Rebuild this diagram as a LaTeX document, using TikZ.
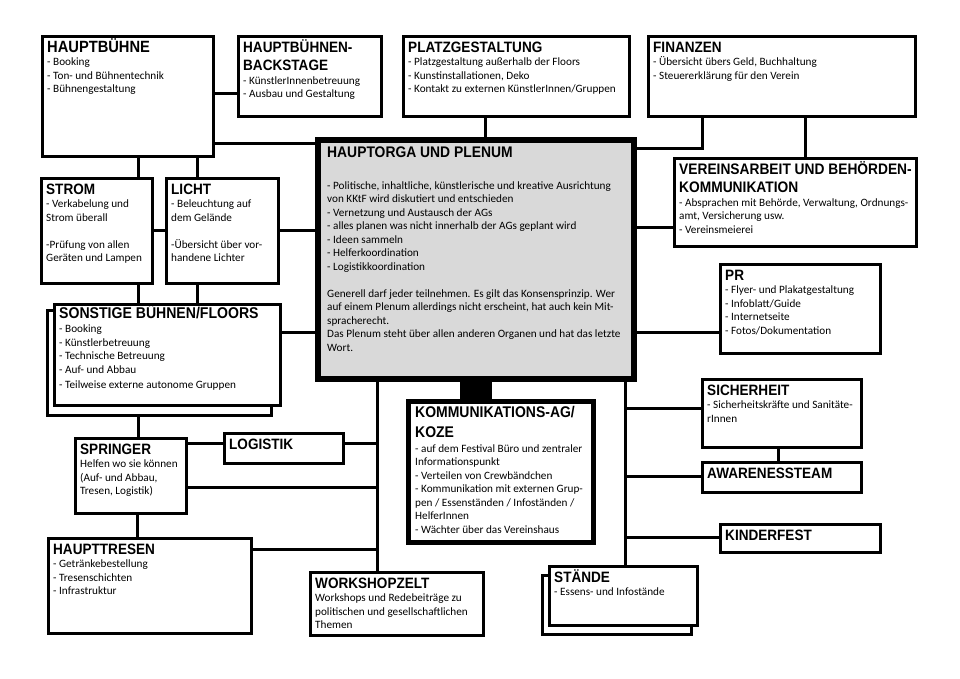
\documentclass[tikz,border=0pt]{standalone}
\usepackage{fontspec}
\setmainfont{Carlito}
\newfontfamily\titlefamily{Liberation Sans}
\usepackage{xcolor}
\usepackage{graphicx}

\newcommand{\bodyfont}{\fontsize{11.2}{13.5}\selectfont}
\newcommand{\titlefont}[1]{\titlefamily\bfseries\fontsize{#1}{16}\selectfont}
\newcommand{\boxtitle}[2][13.3]{\rule{0pt}{14pt}\scalebox{1.02}[1.13]{\titlefont{#1}#2}}
\newcommand{\boxtitlecont}[2][13.3]{\scalebox{1.02}[1.13]{\titlefont{#1}#2}}
\definecolor{orgagray}{RGB}{217,217,217}

\begin{document}
\begin{tikzpicture}[x=1pt, y=-1pt,
    orgbox/.style={draw, line width=3pt, fill=white, inner sep=0pt, anchor=north west},
    boxlabel/.style={anchor=north west, inner sep=0pt, align=left, font=\bodyfont, xshift=6pt, yshift=-3pt},
    conn/.style={line width=3pt}]

    \fill[white] (0,0) rectangle (960,678);
    \useasboundingbox (0,0) rectangle (960,678);

    % top row
    \node[orgbox, minimum width=171, minimum height=120] (buehne) at (41,35) {};
    \node[boxlabel] (buehnetext) at (buehne.north west) {\boxtitle[14.4]{HAUPTBÜHNE}\\- Booking\\- Ton- und Bühnentechnik\\- Bühnengestaltung};

    \node[orgbox, minimum width=143, minimum height=80] (backstage) at (237,35) {};
    \node[boxlabel] (backstagetext) at (backstage.north west) {\boxtitle{HAUPTBÜHNEN-}\\[5pt]\boxtitlecont{BACKSTAGE}\\- KünstlerInnenbetreuung\\- Ausbau und Gestaltung};

    \node[orgbox, minimum width=226, minimum height=80] (platz) at (402,35) {};
    \node[boxlabel] (platztext) at (platz.north west) {\boxtitle{PLATZGESTALTUNG}\\- Platzgestaltung außerhalb der Floors\\- Kunstinstallationen, Deko\\- Kontakt zu externen KünstlerInnen/Gruppen};

    \node[orgbox, minimum width=267, minimum height=80] (finanzen) at (647,35) {};
    \node[boxlabel] (finanzentext) at (finanzen.north west) {\boxtitle{FINANZEN}\\- Übersicht übers Geld, Buchhaltung\\- Steuererklärung für den Verein};

    % hauptorga
    \node[orgbox, line width=6pt, fill=orgagray, minimum width=316, minimum height=239] (orga) at (315,137) {};
    \node[boxlabel, xshift=6pt, yshift=-3pt] (orgatext) at (orga.north west) {\boxtitle[13.6]{HAUPTORGA UND PLENUM}\\[18.5pt]
        - Politische, inhaltliche, künstlerische und kreative Ausrichtung\\
        von KKtF wird diskutiert und entschieden\\
        - Vernetzung und Austausch der AGs\\
        - alles planen was nicht innerhalb der AGs geplant wird\\
        - Ideen sammeln\\
        - Helferkoordination\\
        - Logistikkoordination\\[13.5pt]
        Generell darf jeder teilnehmen. Es gilt das Konsensprinzip. Wer\\
        auf einem Plenum allerdings nicht erscheint, hat auch kein Mit-\\
        spracherecht.\\
        Das Plenum steht über allen anderen Organen und hat das letzte\\
        Wort.};

    % left column
    \node[orgbox, minimum width=111, minimum height=105] (strom) at (40,177) {};
    \node[boxlabel] (stromtext) at (strom.north west) {\boxtitle{STROM}\\- Verkabelung und\\Strom überall\\[13.5pt]-Prüfung von allen\\Geräten und Lampen};

    \node[orgbox, minimum width=112, minimum height=105] (licht) at (165,177) {};
    \node[boxlabel] (lichttext) at (licht.north west) {\boxtitle{LICHT}\\- Beleuchtung auf\\dem Gelände\\[13.5pt]-Übersicht über vor-\\handene Lichter};

    \node[orgbox, minimum width=224, minimum height=105] (sonstigeback) at (46,309) {};
    \node[orgbox, minimum width=226, minimum height=101] (sonstige) at (53,303) {};
    \node[boxlabel, yshift=2pt] (sonstigetext) at (sonstige.north west) {\boxtitle[13.8]{SONSTIGE BÜHNEN/FLOORS}\\[1pt]- Booking\\- Künstlerbetreuung\\- Technische Betreuung\\- Auf- und Abbau\\[2pt]- Teilweise externe autonome Gruppen};

    \node[orgbox, minimum width=111, minimum height=75] (springer) at (74,437) {};
    \node[boxlabel] (springertext) at (springer.north west) {\boxtitle{SPRINGER}\\Helfen wo sie können\\(Auf- und Abbau,\\Tresen, Logistik)};

    \node[orgbox, minimum width=119, minimum height=30] (logistik) at (223,432) {};
    \node[boxlabel] (logistiktext) at (logistik.north west) {\boxtitle{LOGISTIK}};

    \node[orgbox, minimum width=203, minimum height=95] (tresen) at (47,537) {};
    \node[boxlabel] (tresentext) at (tresen.north west) {\boxtitle{HAUPTTRESEN}\\- Getränkebestellung\\- Tresenschichten\\- Infrastruktur};

    \node[orgbox, minimum width=173, minimum height=63] (workshop) at (309,571) {};
    \node[boxlabel] (workshoptext) at (workshop.north west) {\boxtitle{WORKSHOPZELT}\\Workshops und Redebeiträge zu\\politischen und gesellschaftlichen\\Themen};

    % middle
    \node[orgbox, line width=5pt, minimum width=185, minimum height=141] (koze) at (406,399) {};
    \node[boxlabel, xshift=3pt, yshift=-1pt] (kozetext) at (koze.north west) {\boxtitle[13.7]{KOMMUNIKATIONS-AG/}\\[6.5pt]\boxtitlecont[13.7]{KOZE}\\[1.5pt]
        - auf dem Festival Büro und zentraler\\
        Informationspunkt\\
        - Verteilen von Crewbändchen\\
        - Kommunikation mit externen Grup-\\
        pen / Essenständen / Infoständen /\\
        HelferInnen\\
        - Wächter über das Vereinshaus};

    % right column
    \node[orgbox, minimum width=242, minimum height=88] (verein) at (673,157) {};
    \node[boxlabel] (vereintext) at (verein.north west) {\boxtitle[13.5]{VEREINSARBEIT UND BEHÖRDEN-}\\[5pt]\boxtitlecont[13.5]{KOMMUNIKATION}\\- Absprachen mit Behörde, Verwaltung, Ordnungs-\\amt, Versicherung usw.\\- Vereinsmeierei};

    \node[orgbox, minimum width=160, minimum height=89] (pr) at (719,263) {};
    \node[boxlabel] (prtext) at (pr.north west) {\boxtitle{PR}\\- Flyer- und Plakatgestaltung\\- Infoblatt/Guide\\- Internetseite\\- Fotos/Dokumentation};

    \node[orgbox, minimum width=159, minimum height=68] (sicherheit) at (701,378) {};
    \node[boxlabel] (sicherheittext) at (sicherheit.north west) {\boxtitle{SICHERHEIT}\\- Sicherheitskräfte und Sanitäte-\\rInnen};

    \node[orgbox, minimum width=159, minimum height=30] (awareness) at (701,461) {};
    \node[boxlabel] (awarenesstext) at (awareness.north west) {\boxtitle{AWARENESSTEAM}};

    \node[orgbox, minimum width=160, minimum height=28] (kinderfest) at (719,523) {};
    \node[boxlabel] (kinderfesttext) at (kinderfest.north west) {\boxtitle{KINDERFEST}};

    \node[orgbox, minimum width=149, minimum height=59] (staendeback) at (541,574) {};
    \node[orgbox, minimum width=148, minimum height=59] (staende) at (548,565) {};
    \node[boxlabel] (staendetext) at (staende.north west) {\boxtitle{STÄNDE}\\- Essens- und Infostände};

    % trunks
    \coordinate (ltrunk) at (377,382);
    \coordinate (rtrunk) at (625,382);

    % connections left
    \draw[conn] (buehne.east |- 0,93) -- (backstage.west |- 0,93);
    \draw[conn] (buehne.east |- 0,143) -- (orga.west |- 0,143);
    \draw[conn] (buehne.south -| 138,0) -- (strom.north -| 138,0);
    \draw[conn] (buehne.south -| 197,0) -- (licht.north -| 197,0);
    \draw[conn] (strom.east |- 0,230) -- (licht.west |- 0,230);
    \draw[conn] (licht.east |- 0,230) -- (orga.west |- 0,230);
    \draw[conn] (strom.south -| 138,0) -- (sonstige.north -| 138,0);
    \draw[conn] (licht.south -| 197,0) -- (sonstige.north -| 197,0);
    \draw[conn] (sonstige.east |- 0,332) -- (orga.west |- 0,332);
    \draw[conn] (sonstigeback.south -| 138,0) -- (springer.north -| 138,0);
    \draw[conn] (springer.east |- 0,443) -- (logistik.west |- 0,443);
    \draw[conn] (springer.south -| 137,0) -- (tresen.north -| 137,0);
    \draw[conn] (orga.south -| ltrunk) -- (workshop.north -| ltrunk);
    \draw[conn] (logistik.east |- 0,443) -- (ltrunk |- 0,443);
    \draw[conn] (springer.east |- 0,487) -- (ltrunk |- 0,487);
    \draw[conn] (tresen.east |- 0,549) -- (ltrunk |- 0,549);

    % connections right
    \draw[conn] (platz.south -| 485,0) -- (orga.north -| 485,0);
    \draw[conn] (finanzen.south -| 702,0) |- (orga.east |- 0,148);
    \draw[conn] (finanzen.south -| 805,0) -- (verein.north -| 805,0);
    \draw[conn] (verein.west |- 0,227) -- (orga.east |- 0,227);
    \draw[conn] (pr.west |- 0,332) -- (orga.east |- 0,332);
    \draw[conn] (orga.south -| rtrunk) -- (staende.north -| rtrunk);
    \draw[conn] (sicherheit.west |- 0,408) -- (rtrunk |- 0,408);
    \draw[conn] (awareness.west |- 0,476) -- (rtrunk |- 0,476);
    \draw[conn] (kinderfest.west |- 0,537) -- (rtrunk |- 0,537);
    \draw[conn] (sicherheit.south -| 778,0) -- (awareness.north -| 778,0);
    \draw[line width=32pt] (orga.south) -- (orga.south |- koze.north);
\end{tikzpicture}
\end{document}
